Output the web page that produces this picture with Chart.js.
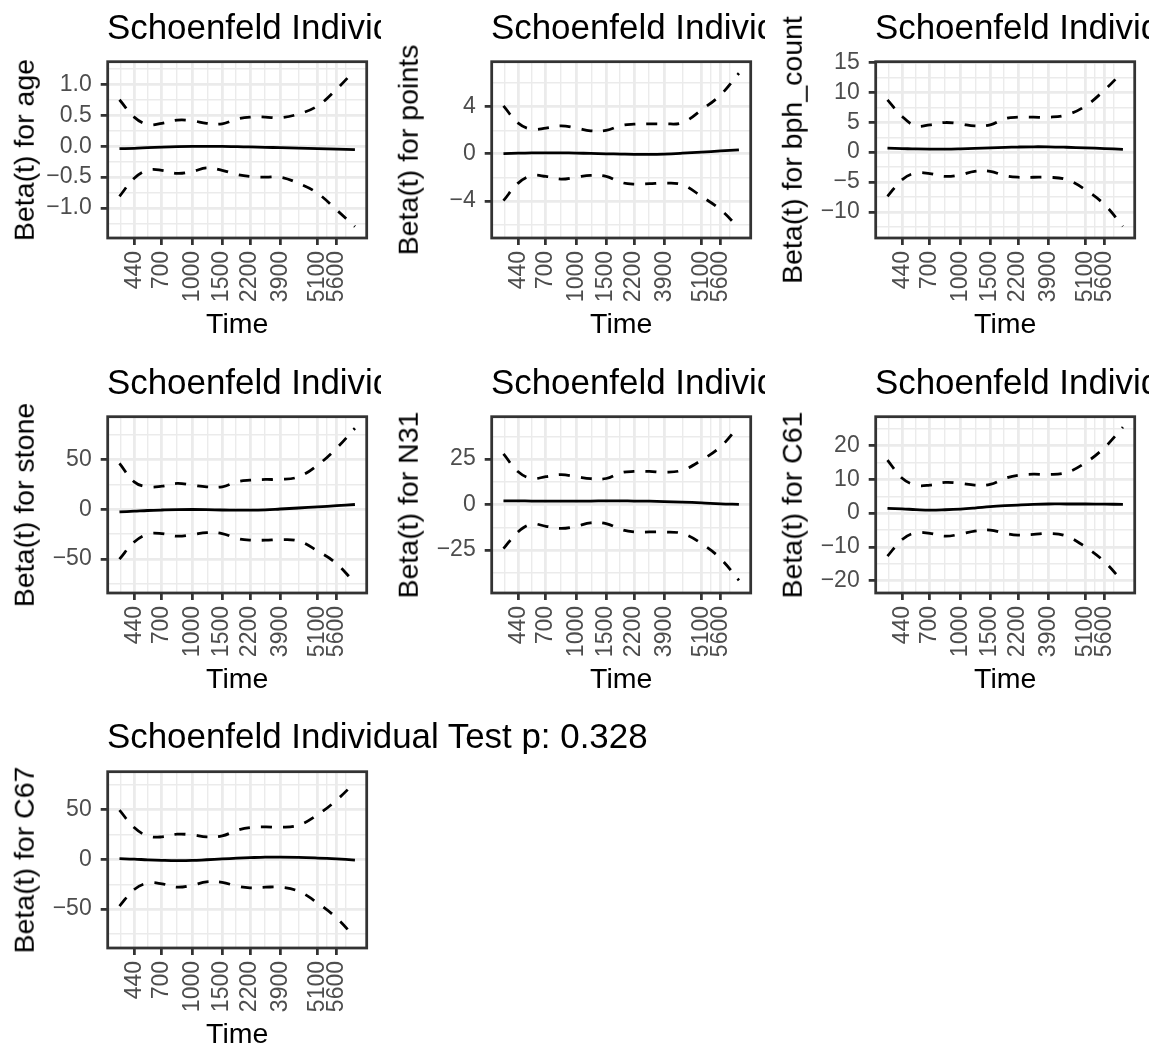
<!DOCTYPE html>
<html lang="en">
<head>
<meta charset="UTF-8">
<title>Schoenfeld Individual Test</title>
<script src="https://cdn.jsdelivr.net/npm/chart.js"></script>
<style>
  body { margin: 0; background: #fff; }
  #page { position: relative; width: 1155px; height: 1045px; overflow: hidden; font-family: "Liberation Sans", Arial, sans-serif; }
  .cell { position: absolute; overflow: hidden; }
  .cell canvas { position: absolute; left: 0; top: 0; }
  .title { position: absolute; left: 107px; top: 9.8px; font-size: 34.9px; line-height: 34.9px; white-space: nowrap; color: #000; overflow: hidden; }
  .ytitle { position: absolute; left: 23.8px; top: 150px; font-size: 28.5px; line-height: 28.5px; white-space: nowrap; color: #000;
            transform: translate(-50%, -50%) rotate(-90deg); }
  .xtitle { position: absolute; left: 237.2px; top: 309.2px; font-size: 28.5px; line-height: 28.5px; white-space: nowrap; color: #000;
            transform: translateX(-50%); }
</style>
</head>
<body>
<div id="page"></div>

<script>
  // transformed time axis (positions) and its tick labels
  const timePos = [0, 0.0625, 0.12, 0.18, 0.245, 0.31, 0.37, 0.436, 0.5, 0.554, 0.62, 0.683, 0.76, 0.841, 0.922, 1.0];
  const timeTickPos = [0.0625, 0.18, 0.31, 0.436, 0.554, 0.683, 0.841, 0.922];
  const timeTickLabels = ["440", "700", "1000", "1500", "2200", "3900", "5100", "5600"];

  // age
  const ageBeta  = [-0.04, -0.035, -0.025, -0.015, -0.007, -0.003, -0.002, -0.003, -0.008, -0.012, -0.018, -0.025, -0.032, -0.04, -0.047, -0.055];
  const ageUpper = [0.75, 0.47, 0.35, 0.37, 0.42, 0.41, 0.37, 0.36, 0.44, 0.47, 0.47, 0.46, 0.52, 0.65, 0.92, 1.23];
  const ageLower = [-0.81, -0.52, -0.39, -0.39, -0.44, -0.41, -0.35, -0.39, -0.46, -0.49, -0.50, -0.50, -0.60, -0.76, -1.03, -1.30];
  const ageTicks = [-1, -0.5, 0, 0.5, 1];
  const ageTickLabels = ["\u22121.0", "\u22120.5", "0.0", "0.5", "1.0"];

  // points
  const pointsBeta  = [0.02, 0.05, 0.07, 0.08, 0.08, 0.06, 0.03, 0.0, -0.03, -0.05, -0.05, -0.02, 0.05, 0.14, 0.24, 0.34];
  const pointsUpper = [4.07, 2.6, 2.09, 2.18, 2.37, 2.18, 1.95, 1.98, 2.4, 2.51, 2.54, 2.54, 2.65, 3.73, 5.0, 6.84];
  const pointsLower = [-3.98, -2.49, -1.86, -1.92, -2.15, -1.98, -1.84, -1.92, -2.43, -2.57, -2.54, -2.49, -2.63, -3.62, -4.75, -6.3];
  const pointsTicks = [-4, 0, 4];
  const pointsTickLabels = ["\u22124", "0", "4"];

  // bph_count
  const bphBeta  = [0.67, 0.6, 0.53, 0.5, 0.5, 0.55, 0.62, 0.7, 0.8, 0.86, 0.9, 0.89, 0.82, 0.72, 0.6, 0.48];
  const bphUpper = [8.74, 5.96, 4.4, 4.57, 4.96, 4.73, 4.4, 4.57, 5.62, 5.85, 5.85, 5.85, 6.24, 7.74, 10.4, 13.47];
  const bphLower = [-7.4, -4.6, -3.5, -3.6, -4.06, -3.8, -3.2, -3.2, -3.95, -4.2, -4.2, -4.2, -4.6, -6.3, -8.8, -12.4];
  const bphTicks = [-10, -5, 0, 5, 10, 15];
  const bphTickLabels = ["\u221210", "\u22125", "0", "5", "10", "15"];

  // stone
  const stoneBeta  = [-2.7, -2.0, -1.3, -0.8, -0.4, -0.3, -0.4, -0.8, -1.0, -1.0, -0.6, 0.2, 1.2, 2.3, 3.5, 4.7];
  const stoneUpper = [45.8, 27.4, 22.4, 23, 25.8, 24, 22.4, 22.4, 27.4, 29, 29.8, 29.8, 32.4, 44, 61, 81];
  const stoneLower = [-50, -32.8, -25, -24.4, -27, -25.4, -23.4, -24.4, -29.4, -31, -31, -30.4, -31.8, -41.8, -54.5, -74];
  const stoneTicks = [-50, 0, 50];
  const stoneTickLabels = ["\u221250", "0", "50"];

  // N31
  const n31Beta  = [2.0, 2.0, 1.9, 1.9, 1.9, 1.9, 1.9, 2.0, 2.0, 1.9, 1.8, 1.6, 1.3, 0.9, 0.4, 0.1];
  const n31Upper = [27.8, 18, 14.3, 15.3, 16.4, 15.3, 14.2, 14.3, 17.5, 18.2, 18.2, 17.8, 18.9, 24.4, 31.8, 43.2];
  const n31Lower = [-24.3, -15, -10.8, -12, -13.2, -12, -10.1, -10.5, -13.8, -15.1, -15.1, -15.1, -16, -21.5, -29.8, -41.7];
  const n31Ticks = [-25, 0, 25];
  const n31TickLabels = ["\u221225", "0", "25"];

  // C61
  const c61Beta  = [1.4, 1.25, 1.05, 0.9, 1.0, 1.2, 1.5, 1.9, 2.2, 2.4, 2.6, 2.7, 2.7, 2.7, 2.65, 2.6];
  const c61Upper = [15.7, 10.3, 8.3, 8.3, 9.1, 8.8, 8.3, 8.5, 10.3, 11.2, 11.5, 11.4, 12, 14.9, 19.4, 25.4];
  const c61Lower = [-12.7, -7.8, -5.8, -6, -6.8, -6.2, -5.3, -5, -6, -6.5, -6.3, -6, -6.8, -10, -14.4, -20.3];
  const c61Ticks = [-20, -10, 0, 10, 20];
  const c61TickLabels = ["\u221220", "\u221210", "0", "10", "20"];

  // C67
  const c67Beta  = [0.7, 0.2, -0.5, -1.0, -1.3, -1.1, -0.4, 0.4, 1.2, 1.7, 2.2, 2.3, 2.0, 1.3, 0.4, -0.7];
  const c67Upper = [49.5, 32, 23.6, 22.6, 25.3, 24.6, 22.6, 23.6, 29.3, 32, 32.7, 32.3, 34.3, 44.8, 59.6, 77.4];
  const c67Lower = [-47, -30.3, -23.9, -24.6, -28, -26, -22.6, -23.2, -27, -28.6, -28, -28, -32, -43.8, -59, -78.5];
  const c67Ticks = [-50, 0, 50];
  const c67TickLabels = ["\u221250", "0", "50"];

  const panels = [
    { name: "age",       beta: ageBeta,    upper: ageUpper,    lower: ageLower,    ticks: ageTicks,    labels: ageTickLabels,    range: [-1.484, 1.365], title: "Schoenfeld Individual Test" },
    { name: "points",    beta: pointsBeta, upper: pointsUpper, lower: pointsLower, ticks: pointsTicks, labels: pointsTickLabels, range: [-7.15, 7.82],   title: "Schoenfeld Individual Test" },
    { name: "bph_count", beta: bphBeta,    upper: bphUpper,    lower: bphLower,    ticks: bphTicks,    labels: bphTickLabels,    range: [-14.37, 15.14], title: "Schoenfeld Individual Test" },
    { name: "stone",     beta: stoneBeta,  upper: stoneUpper,  lower: stoneLower,  ticks: stoneTicks,  labels: stoneTickLabels,  range: [-83.9, 92.6],   title: "Schoenfeld Individual Test" },
    { name: "N31",       beta: n31Beta,    upper: n31Upper,    lower: n31Lower,    ticks: n31Ticks,    labels: n31TickLabels,    range: [-48.7, 48.3],   title: "Schoenfeld Individual Test" },
    { name: "C61",       beta: c61Beta,    upper: c61Upper,    lower: c61Lower,    ticks: c61Ticks,    labels: c61TickLabels,    range: [-23.6, 28.5],   title: "Schoenfeld Individual Test" },
    { name: "C67",       beta: c67Beta,    upper: c67Upper,    lower: c67Lower,    ticks: c67Ticks,    labels: c67TickLabels,    range: [-89.2, 88.2],   title: "Schoenfeld Individual Test p: 0.328" }
  ];

  // layout of the 3x3 grid (cells)
  const colX = [0, 384, 768];
  const colW = [384, 384, 387];
  const rowY = [0, 355, 709.5];
  const CANVAS_H = 335;
  const PLOT_LEFT = 107.7, PLOT_RIGHT = 366.7, PLOT_TOP = 61.7, PLOT_BOTTOM = 238;
  const TITLE_CLIP = 274; // titles of the grid cells are cut here

  // minor breaks like ggplot: midpoints + one step outside, if inside limits
  function minorBreaks(major, lo, hi) {
    const out = [];
    const first = major[0] - (major[1] - major[0]) / 2;
    if (first > lo) out.push(first);
    for (let i = 0; i < major.length - 1; i++) out.push((major[i] + major[i + 1]) / 2);
    const n = major.length;
    const last = major[n - 1] + (major[n - 1] - major[n - 2]) / 2;
    if (last < hi) out.push(last);
    return out;
  }

  const tickFont = { family: "'Liberation Sans', Arial, sans-serif", size: 23 };
  const tickColor = "#4D4D4D";

  function gridFor(major) {
    return {
      drawOnChartArea: true,
      drawTicks: true,
      tickLength: 7,
      color: "#EBEBEB",
      lineWidth: ctx => (ctx.tick && major.includes(ctx.tick.value)) ? 2.77 : 1.39,
      tickColor: ctx => (ctx.tick && major.includes(ctx.tick.value)) ? "#333333" : "rgba(0,0,0,0)",
      tickWidth: 2.77
    };
  }

  // border around the panel
  const panelBox = {
    id: "panelBox",
    afterDraw(chart) {
      const a = chart.chartArea;
      const ctx = chart.ctx;
      ctx.save();
      ctx.strokeStyle = "#333333";
      ctx.lineWidth = 2.77;
      ctx.strokeRect(a.left, a.top, a.right - a.left, a.bottom - a.top);
      ctx.restore();
    }
  };

  function toXY(vals) {
    return vals.map((v, i) => ({ x: timePos[i], y: v }));
  }

  const page = document.getElementById("page");

  panels.forEach((p, k) => {
    const col = k % 3, row = Math.floor(k / 3);
    const lastRow = row === 2;
    const cell = document.createElement("div");
    cell.className = "cell";
    cell.style.left = colX[col] + "px";
    cell.style.top = rowY[row] + "px";
    cell.style.width = (lastRow ? 1155 : colW[col]) + "px";
    cell.style.height = (lastRow ? 1045 - rowY[row] : 355) + "px";
    page.appendChild(cell);

    const canvas = document.createElement("canvas");
    canvas.width = colW[col];
    canvas.height = CANVAS_H;
    cell.appendChild(canvas);

    const t = document.createElement("div");
    t.className = "title";
    t.textContent = p.title;
    if (!lastRow) t.style.width = TITLE_CLIP + "px";
    cell.appendChild(t);

    const yt = document.createElement("div");
    yt.className = "ytitle";
    yt.textContent = "Beta(t) for " + p.name;
    cell.appendChild(yt);

    const xt = document.createElement("div");
    xt.className = "xtitle";
    xt.textContent = "Time";
    cell.appendChild(xt);

    const xMinor = minorBreaks(timeTickPos, -0.05, 1.05);
    const xAll = timeTickPos.concat(xMinor).sort((a, b) => a - b);
    const yMinor = minorBreaks(p.ticks, p.range[0], p.range[1]);
    const yAll = p.ticks.concat(yMinor).sort((a, b) => a - b);

    const lineStyle = { borderColor: "#000", borderWidth: 2.77, pointRadius: 0, fill: false, tension: 0.4, borderCapStyle: "butt" };

    new Chart(canvas.getContext("2d"), {
      type: "line",
      data: {
        datasets: [
          Object.assign({ label: "upper", data: toXY(p.upper), borderDash: [11, 11] }, lineStyle),
          Object.assign({ label: "lower", data: toXY(p.lower), borderDash: [11, 11] }, lineStyle),
          Object.assign({ label: "beta", data: toXY(p.beta) }, lineStyle)
        ]
      },
      options: {
        responsive: false,
        animation: false,
        layout: { padding: { left: 0, top: PLOT_TOP, right: colW[col] - PLOT_RIGHT, bottom: 0 } },
        plugins: { legend: { display: false }, tooltip: { enabled: false }, title: { display: false } },
        scales: {
          x: {
            type: "linear",
            min: -0.05,
            max: 1.05,
            afterBuildTicks: s => { s.ticks = xAll.map(v => ({ value: v })); },
            afterFit: s => { s.height = CANVAS_H - PLOT_BOTTOM; },
            ticks: {
              autoSkip: false,
              minRotation: 90,
              maxRotation: 90,
              padding: 6,
              font: tickFont,
              color: tickColor,
              callback: v => { const i = timeTickPos.indexOf(v); return i >= 0 ? timeTickLabels[i] : ""; }
            },
            grid: gridFor(timeTickPos),
            border: { display: false }
          },
          y: {
            type: "linear",
            min: p.range[0],
            max: p.range[1],
            afterBuildTicks: s => { s.ticks = yAll.map(v => ({ value: v })); },
            afterFit: s => { s.width = PLOT_LEFT; },
            ticks: {
              autoSkip: false,
              padding: 9,
              font: tickFont,
              color: tickColor,
              callback: v => { const i = p.ticks.indexOf(v); return i >= 0 ? p.labels[i] : ""; }
            },
            grid: gridFor(p.ticks),
            border: { display: false }
          }
        }
      },
      plugins: [panelBox]
    });
  });
</script>
</body>
</html>
